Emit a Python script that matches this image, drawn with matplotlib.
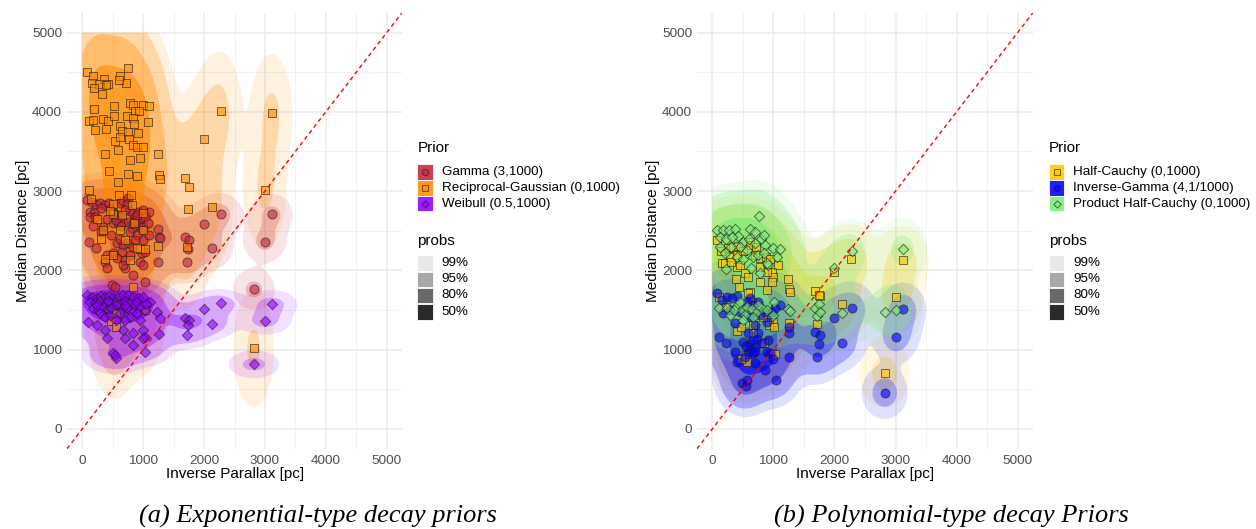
import numpy as np
import matplotlib
matplotlib.use("Agg")
import matplotlib.pyplot as plt
from matplotlib.patches import Rectangle
from matplotlib.colors import to_rgba

# ---------------- data (inverse parallax, median distance) ----------------
gamma_points = [
    (72, 2888), (154, 2867), (225, 2837), (290, 2846), (373, 2825), (444, 2846), (619, 2854), (674, 2879),
    (756, 2909), (728, 2837), (126, 2741), (192, 2720), (126, 2678), (208, 2669), (510, 2741), (564, 2699),
    (783, 2749), (838, 2728), (920, 2741), (1002, 2762), (1100, 2732), (865, 2678), (947, 2644), (1029, 2678),
    (619, 2678), (510, 2594), (592, 2602), (674, 2615), (756, 2615), (838, 2594), (920, 2573), (1002, 2552),
    (1084, 2594), (810, 2531), (975, 2510), (345, 2552), (115, 2362), (225, 2278), (564, 2341), (674, 2320),
    (756, 2341), (838, 2299), (646, 2236), (510, 2215), (400, 2194), (564, 2152), (701, 2131), (783, 2194),
    (975, 2215), (1029, 2236), (947, 2110), (1002, 2068), (373, 2110), (400, 2026), (701, 2026), (674, 2068),
    (838, 1942), (1029, 1858), (482, 1816), (537, 1795),
    (300, 2790), (480, 2780), (700, 2760), (860, 2620), (900, 2700), (560, 2630), (400, 2650), (640, 2560),
    (780, 2480), (900, 2450), (480, 2450), (300, 2480), (1000, 2380), (620, 2400), (860, 2380), (1100, 2450),
    (180, 2560),
    (1243, 2522), (1259, 2425), (1276, 2412), (1248, 2106), (1681, 2421), (1757, 2379), (1741, 2274),
    (1714, 2106), (2124, 2286), (2272, 2715), (1998, 2589), (2819, 1761), (3000, 2362), (3110, 2707),
]

recip_gauss_points = [
    (82, 4506), (170, 4452), (361, 4413), (619, 4455), (755, 4552), (159, 4367), (274, 4346), (427, 4354),
    (712, 4359), (603, 4397), (192, 4296), (328, 4224), (389, 4342), (197, 4032), (525, 4078), (783, 4107),
    (837, 4086), (991, 4082), (1100, 4069), (865, 4010), (936, 4010), (115, 3880), (170, 3897), (345, 3909),
    (422, 3884), (525, 3947), (729, 3951), (837, 3917), (1084, 3867), (214, 3771), (389, 3779), (619, 3821),
    (849, 3846), (647, 3758), (755, 3741), (920, 3729), (537, 3636), (619, 3678), (772, 3653), (837, 3581),
    (893, 3552), (991, 3552), (581, 3518), (373, 3464), (783, 3392), (952, 3413), (438, 3257), (755, 3212),
    (893, 3190), (591, 3111), (115, 3014),
    (499, 2834), (811, 2825), (345, 2509), (619, 2509), (1002, 2509), (947, 2270), (1030, 2270), (373, 2144),
    (783, 2131), (837, 1795), (509, 2708), (553, 1467), (471, 1362), (548, 1282), (1030, 1500),
    (250, 2650), (450, 2750), (650, 2700), (850, 2600), (1000, 2720), (300, 2400), (700, 2380), (900, 2280),
    (500, 2200), (150, 2900), (600, 2950), (800, 2950),
    (1248, 3464), (1254, 3199), (1281, 3153), (1686, 3170), (1757, 3052), (1741, 2770), (1714, 2299),
    (2124, 2803), (1998, 3657), (2272, 4006), (3110, 3989), (3000, 3014), (2814, 1017), (1248, 2308),
]

weibull_points = [
    (72, 1690), (154, 1669), (236, 1648), (302, 1677), (373, 1660), (444, 1677), (510, 1648), (592, 1669),
    (663, 1690), (756, 1690), (838, 1669), (920, 1648), (1002, 1669), (1111, 1606), (126, 1606), (208, 1585),
    (290, 1618), (389, 1585), (466, 1593), (537, 1606), (619, 1576), (701, 1618), (783, 1593), (865, 1564),
    (947, 1543), (1029, 1501), (181, 1522), (263, 1501), (345, 1543), (427, 1509), (646, 1509), (728, 1522),
    (810, 1480), (893, 1459), (290, 1459), (373, 1417), (455, 1438), (783, 1417), (619, 1459), (99, 1354),
    (236, 1312), (373, 1249), (400, 1143), (701, 1143), (838, 1206), (674, 1249), (1002, 1249), (1029, 1164),
    (838, 1059), (1002, 1143), (499, 954), (553, 891), (537, 933), (1029, 975),
    (560, 1560), (700, 1560), (480, 1530), (420, 1620), (880, 1600), (240, 1560), (1050, 1580), (560, 1380),
    (700, 1380), (950, 1380),
    (1232, 1475), (1276, 1396), (1259, 1194), (1686, 1396), (1757, 1375), (1741, 1311), (1714, 1190),
    (1998, 1509), (2124, 1320), (2272, 1585), (2819, 816), (3000, 1366), (3110, 1576),
]

half_cauchy_points = [
    (82, 2384), (153, 2090), (208, 2090), (262, 2279), (344, 2300), (426, 2308), (289, 2165), (398, 2048),
    (453, 2069), (535, 1964), (590, 1922), (617, 2363), (617, 2321), (715, 2300), (780, 2153), (879, 2174),
    (890, 2069), (972, 1985), (999, 1922), (1080, 2069), (972, 1859), (780, 1859), (890, 1754), (617, 1733),
    (437, 1787), (382, 1888), (590, 1712), (890, 1985), (780, 2039),
    (104, 1670), (224, 1543), (644, 1606), (835, 1409), (999, 1354), (933, 1312), (1015, 1291), (398, 1236),
    (464, 1291), (660, 1312), (671, 1215), (846, 1081), (551, 934), (562, 850), (464, 879), (1026, 942),
    (150, 2250), (300, 2100), (500, 2250), (700, 2200), (950, 2150), (400, 2200),
    (1244, 1888), (1261, 1762), (1272, 1731), (1250, 1333), (1687, 1744), (1763, 1681), (1747, 1690),
    (1719, 1324), (1997, 1980), (2128, 1572), (2276, 2140), (2822, 702), (3013, 1665), (3117, 2131),
]

inverse_gamma_points = [
    (82, 1711), (153, 1627), (235, 1669), (317, 1648), (398, 1678), (180, 1459), (289, 1501), (453, 1480),
    (562, 1606), (617, 1648), (671, 1564), (753, 1606), (617, 1417), (780, 1438), (862, 1480), (972, 1480),
    (1026, 1522), (1108, 1564), (699, 1312), (890, 1354), (371, 1333), (109, 1165), (224, 1081), (590, 1207),
    (753, 1207), (917, 1123), (371, 976), (508, 1102), (617, 1081), (699, 1039), (737, 1131), (808, 1081),
    (890, 976), (590, 976), (671, 955), (398, 850), (535, 913), (699, 829), (862, 745), (999, 879),
    (480, 577), (562, 619), (551, 543), (1037, 619), (944, 955),
    (620, 1000), (700, 980), (560, 1050), (660, 1120),
    (1261, 1290), (1250, 1210), (1261, 912), (1687, 1219), (1763, 1181), (1747, 1076), (1719, 912),
    (1997, 1396), (2128, 1088), (2282, 1522), (2822, 458), (3008, 1164), (3122, 1513),
]

product_half_cauchy_points = [
    (764, 2691), (82, 2510), (180, 2510), (278, 2510), (371, 2518), (426, 2434), (617, 2518), (699, 2489),
    (126, 2417), (224, 2392), (317, 2417), (508, 2363), (791, 2392), (862, 2321), (126, 2300), (208, 2216),
    (398, 2174), (562, 2258), (671, 2174), (753, 2195), (846, 2216), (999, 2279), (1108, 2266), (917, 2069),
    (1064, 2174), (224, 2014), (633, 2027), (780, 1964), (890, 2090), (453, 2300),
    (115, 1522), (246, 1522), (398, 1552), (480, 1501), (562, 1543), (644, 1510), (726, 1480), (808, 1522),
    (890, 1501), (1010, 1606), (988, 1438), (289, 1438), (535, 1438), (671, 1417), (508, 1375),
    (300, 2300), (700, 2350), (500, 2150), (850, 2450), (600, 2400), (350, 1500), (750, 1560), (450, 1600),
    (1244, 1513), (1272, 1492), (1687, 1526), (1719, 1429), (1752, 1572), (1763, 1479), (1997, 2026),
    (2128, 1459), (2282, 2249), (2822, 1471), (3008, 1500), (3117, 2270),
]

left_labels = ["Gamma (3,1000)", "Reciprocal-Gaussian (0,1000)", "Weibull (0.5,1000)"]
right_labels = ["Half-Cauchy (0,1000)", "Inverse-Gamma (4,1/1000)", "Product Half-Cauchy (0,1000)"]
prob_levels = [0.99, 0.95, 0.80, 0.50]
prob_labels = ["99%", "95%", "80%", "50%"]
ticks = [0, 1000, 2000, 3000, 4000, 5000]
captions = ["(a) Exponential-type decay priors", "(b) Polynomial-type decay Priors"]

# ---------------- styling ----------------
C_GAMMA = "#C8233C"
C_RG = "#FF8C00"
C_WEIB = "#8F00FF"
C_HC = "#FFC800"
C_IG = "#0000FF"
C_PHC = "#7CEB7C"
BAND_ALPHA = [0.12, 0.34, 0.58, 0.84]
KEY_GREYS = ["#E8E8E8", "#A8A8A8", "#6A6A6A", "#2A2A2A"]
BW_ADJUST = 1.2

plt.rcParams["font.family"] = ["Liberation Sans", "DejaVu Sans"]

W, H = 1256, 529
fig = plt.figure(figsize=(W / 100, H / 100), dpi=100)


def px_axes(x0, x1, y0, y1):
    return fig.add_axes([x0 / W, 1 - y1 / H, (x1 - x0) / W, (y1 - y0) / H])


def bw_nrd(v):
    v = np.asarray(v, float)
    q1, q3 = np.percentile(v, [25, 75])
    h = (q3 - q1) / 1.34
    return 4 * 1.06 * min(np.std(v, ddof=1), h) * len(v) ** (-0.2)


def draw_hdr(ax, pts, color):
    x, y = np.array(pts, float).T
    gx = np.linspace(0, 5000, 300)
    gy = np.linspace(0, 5000, 300)
    hx = BW_ADJUST * bw_nrd(x) / 4
    hy = BW_ADJUST * bw_nrd(y) / 4
    kx = np.exp(-0.5 * ((gx[:, None] - x[None, :]) / hx) ** 2)
    ky = np.exp(-0.5 * ((gy[:, None] - y[None, :]) / hy) ** 2)
    dens = ky @ kx.T
    d = np.sort(dens.ravel())[::-1]
    cum = np.cumsum(d) / d.sum()
    th = [d[min(np.searchsorted(cum, p), len(d) - 1)] for p in prob_levels]
    levels = th + [dens.max() * 1.001]
    for i in range(4):
        ax.contourf(gx, gy, dens, levels=[levels[i], levels[i + 1]],
                    colors=[to_rgba(color, BAND_ALPHA[i])], antialiased=True, zorder=1)


def draw_points(ax, pts, color, marker, s):
    x, y = np.array(pts, float).T
    ax.scatter(x, y, marker=marker, s=s, facecolor=to_rgba(color, 0.6),
               edgecolor=(0.1, 0.1, 0.1, 0.6), linewidths=0.7, zorder=3)


def style_axes(ax):
    ax.set_xlim(-250, 5250)
    ax.set_ylim(-250, 5250)
    ax.set_xticks(ticks)
    ax.set_yticks(ticks)
    ax.set_xticks([500, 1500, 2500, 3500, 4500], minor=True)
    ax.set_yticks([500, 1500, 2500, 3500, 4500], minor=True)
    ax.grid(which="major", color="#EBEBEB", lw=1.1, zorder=0)
    ax.grid(which="minor", color="#EFEFEF", lw=0.6, zorder=0)
    ax.set_axisbelow(True)
    for sp in ax.spines.values():
        sp.set_visible(False)
    ax.tick_params(which="both", length=0)
    ax.tick_params(axis="x", pad=4.5, labelsize=9.7, labelcolor="#4D4D4D")
    ax.tick_params(axis="y", pad=3.5, labelsize=9.7, labelcolor="#4D4D4D")
    ax.axline((0, 0), slope=1, color="red", lw=1.0, dashes=(3, 2.4), zorder=4)


axL = px_axes(67, 402, 12.7, 448.8)
axR = px_axes(697, 1033, 12.7, 448.8)
for ax in (axL, axR):
    style_axes(ax)

left_series = [(gamma_points, C_GAMMA, "o", 42), (recip_gauss_points, C_RG, "s", 34),
               (weibull_points, C_WEIB, "D", 28)]
right_series = [(half_cauchy_points, C_HC, "s", 34), (inverse_gamma_points, C_IG, "o", 42),
                (product_half_cauchy_points, C_PHC, "D", 28)]

for ax, series in ((axL, left_series), (axR, right_series)):
    for pts, col, mk, s in series:
        draw_hdr(ax, pts, col)
    for pts, col, mk, s in series:
        draw_points(ax, pts, col, mk, s)

# ---------------- overlay for titles, legends, captions ----------------
ov = fig.add_axes([0, 0, 1, 1])
ov.set_xlim(0, W)
ov.set_ylim(H, 0)
ov.axis("off")
ov.patch.set_alpha(0)

for cx, ylx in ((234.6, 23), (865, 652.7)):
    ov.text(cx, 474, "Inverse Parallax [pc]", ha="center", va="center", fontsize=11)
    ov.text(ylx, 230.7, "Median Distance [pc]", ha="center", va="center", fontsize=11, rotation=90)


def draw_legend(x0, series, labels):
    ov.text(x0, 148, "Prior", ha="left", va="center", fontsize=11)
    k = 15.4
    for i, ((pts, col, mk, s), lab) in enumerate(zip(series, labels)):
        top = 164.3 + i * 15.8
        ov.add_patch(Rectangle((x0, top), k, k, facecolor=to_rgba(col, 0.88), edgecolor="white", lw=0.6))
        ov.scatter([x0 + k / 2], [top + k / 2], marker=mk, s=s * 0.5, facecolor=to_rgba(col, 0.6),
                   edgecolor=(0.1, 0.1, 0.1, 0.6), linewidths=0.7, zorder=5)
        ov.text(x0 + 24.4, top + k / 2, lab, ha="left", va="center", fontsize=9.6)
    ov.text(x0, 240.7, "probs", ha="left", va="center", fontsize=11)
    for i, (g, lab) in enumerate(zip(KEY_GREYS, prob_labels)):
        top = 255.2 + i * 16.3
        ov.add_patch(Rectangle((x0, top), k, k, facecolor=g, edgecolor="white", lw=0.6))
        ov.text(x0 + 24.4, top + k / 2, lab, ha="left", va="center", fontsize=9.6)


draw_legend(417.3, left_series, left_labels)
draw_legend(1049, right_series, right_labels)

for cx, cap in ((318, captions[0]), (951, captions[1])):
    ov.text(cx, 516, cap, ha="center", va="center", fontsize=19,
            family=["Liberation Serif", "DejaVu Serif"], style="italic")

fig.savefig("out.png", dpi=100)
